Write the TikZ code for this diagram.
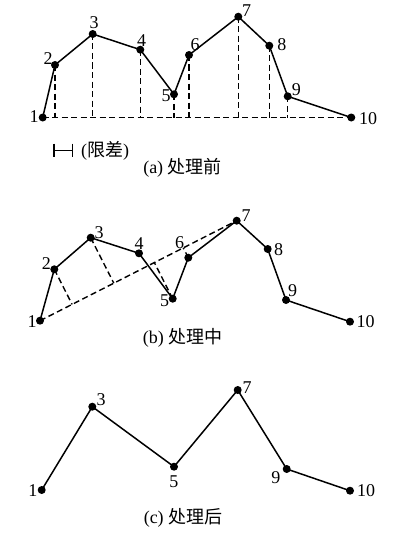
\documentclass[tikz,border=0pt]{standalone}
\usepackage{fontspec}
\setmainfont{Liberation Serif}
\newfontfamily\cjk{Noto Sans CJK SC}
\usetikzlibrary{calc}
\begin{document}
\begin{tikzpicture}[x=1pt,y=-1pt,
  dot/.style={circle,fill=black,inner sep=0pt,minimum size=8pt},
  lbl/.style={inner sep=0pt,font=\fontsize{18}{20}\selectfont},
  captxt/.style={inner sep=0pt,font=\fontsize{18}{20}\selectfont},
  ln/.style={line width=1.5pt,line join=round},
  dsh/.style={line width=1.4pt,dash pattern=on 6pt off 3.5pt}]
\useasboundingbox (0,0) rectangle (400,543);

% ---------- (a) ----------
\node[dot] (a1) at (42.7,117.5) {};
\node[dot] (a2) at (55,65) {};
\node[dot] (a3) at (92.7,34) {};
\node[dot] (a4) at (140.3,49.7) {};
\node[dot] (a5) at (174,94.3) {};
\node[dot] (a6) at (189,55) {};
\node[dot] (a7) at (238.3,16.7) {};
\node[dot] (a8) at (269.3,45.7) {};
\node[dot] (a9) at (287.7,96.3) {};
\node[dot] (a10) at (351.3,117.5) {};
\draw[ln] (a1.center) -- (a2.center) -- (a3.center) -- (a4.center) -- (a5.center) -- (a6.center) -- (a7.center) -- (a8.center) -- (a9.center) -- (a10.center);
\draw[dsh] (a1.center) -- (a10.center);
\foreach \i in {2,...,9} {\draw[dsh] (a\i.center) -- (a\i.center |- a1.center);}
\node[lbl] (la1) at (34,117) {1};
\node[lbl] (la2) at (48,59) {2};
\node[lbl] (la3) at (94,22.5) {3};
\node[lbl] (la4) at (141.7,40.8) {4};
\node[lbl] (la5) at (166,95.8) {5};
\node[lbl] (la6) at (195,44.2) {6};
\node[lbl] (la7) at (246.5,10.5) {7};
\node[lbl] (la8) at (281.8,44.2) {8};
\node[lbl] (la9) at (296.3,89.2) {9};
\node[lbl] (la10) at (368,118.3) {10};
% legend
\coordinate (g1) at (54,143.5);
\coordinate (g2) at (54,157);
\coordinate (g3) at (72.5,143.5);
\coordinate (g4) at (72.5,157);
\draw[line width=1.4pt] (g1) -- (g2);
\draw[line width=1.4pt] (g3) -- (g4);
\draw[line width=1.4pt] ($(g1)!0.5!(g2)$) -- ($(g3)!0.5!(g4)$);
\node[lbl] (leg) at (105,150.5) {({\cjk 限差})};
\node[captxt] (capa) at (182.5,168) {(a) {\cjk 处理前}};

% ---------- (b) ----------
\node[dot] (b1) at (40,320.7) {};
\node[dot] (b2) at (54.3,269.3) {};
\node[dot] (b3) at (90.7,237.7) {};
\node[dot] (b4) at (139,253.3) {};
\node[dot] (b5) at (172.7,298.7) {};
\node[dot] (b6) at (188.3,257.7) {};
\node[dot] (b7) at (236.7,220.7) {};
\node[dot] (b8) at (267.7,249) {};
\node[dot] (b9) at (286,300) {};
\node[dot] (b10) at (350,321.7) {};
\draw[ln] (b1.center) -- (b2.center) -- (b3.center) -- (b4.center) -- (b5.center) -- (b6.center) -- (b7.center) -- (b8.center) -- (b9.center) -- (b10.center);
\draw[dsh] (b1.center) -- (b7.center);
\foreach \i in {2,3,5,6} {\draw[dsh] (b\i.center) -- ($(b1.center)!(b\i.center)!(b7.center)$);}
\node[lbl] (lb1) at (32,321.7) {1};
\node[lbl] (lb2) at (46.3,264) {2};
\node[lbl] (lb3) at (99,232.5) {3};
\node[lbl] (lb4) at (139.2,243.8) {4};
\node[lbl] (lb5) at (164.5,300.8) {5};
\node[lbl] (lb6) at (179.7,242.5) {6};
\node[lbl] (lb7) at (246,215.8) {7};
\node[lbl] (lb8) at (278.5,250) {8};
\node[lbl] (lb9) at (292.7,290.8) {9};
\node[lbl] (lb10) at (365.5,321.7) {10};
\node[captxt] (capb) at (182.5,338) {(b) {\cjk 处理中}};

% ---------- (c) ----------
\node[dot] (c1) at (41.7,490) {};
\node[dot] (c3) at (92.3,406.7) {};
\node[dot] (c5) at (174,466.7) {};
\node[dot] (c7) at (237.7,390) {};
\node[dot] (c9) at (286.7,469) {};
\node[dot] (c10) at (350,490.7) {};
\draw[ln] (c1.center) -- (c3.center) -- (c5.center) -- (c7.center) -- (c9.center) -- (c10.center);
\node[lbl] (lc1) at (32.8,490.8) {1};
\node[lbl] (lc3) at (101,400) {3};
\node[lbl] (lc5) at (173.8,481.7) {5};
\node[lbl] (lc7) at (247,387.5) {7};
\node[lbl] (lc9) at (275.8,477.5) {9};
\node[lbl] (lc10) at (366.2,491) {10};
\node[captxt] (capc) at (183,518) {(c) {\cjk 处理后}};
\end{tikzpicture}
\end{document}
